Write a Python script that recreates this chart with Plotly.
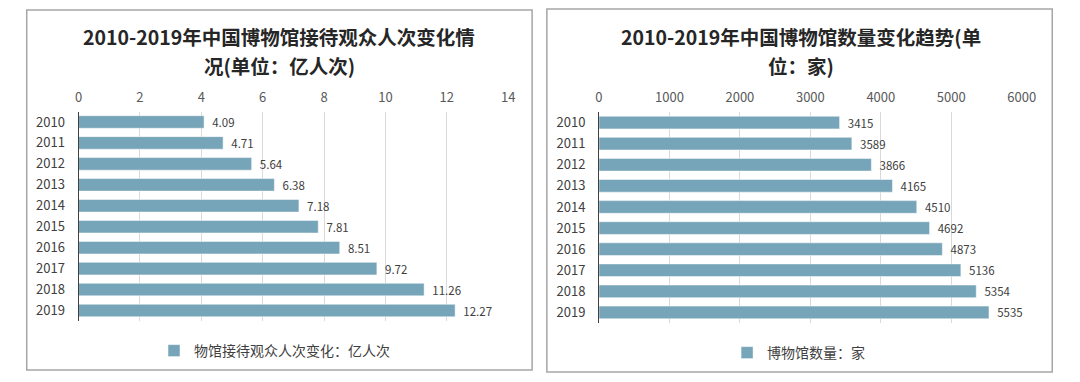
import plotly.graph_objects as go

years = ["2010", "2011", "2012", "2013", "2014", "2015", "2016", "2017", "2018", "2019"]
visitors = [4.09, 4.71, 5.64, 6.38, 7.18, 7.81, 8.51, 9.72, 11.26, 12.27]
museums = [3415, 3589, 3866, 4165, 4510, 4692, 4873, 5136, 5354, 5535]

title_left = ["2010-2019年中国博物馆接待观众人次变化情", "况(单位：亿人次)"]
title_right = ["2010-2019年中国博物馆数量变化趋势(单", "位：家)"]
legend_left = "物馆接待观众人次变化：亿人次"
legend_right = "博物馆数量：家"

OFF = 8  # browser default body margin
W, H = 1080 - OFF, 382 - OFF
BAR = "#76A4B8"
FONT = "Noto Sans CJK SC"

def px(x):
    return (x - OFF) / W

def py(y):
    return 1 - (y - OFF) / H

fig = go.Figure()
fig.add_trace(go.Bar(
    x=visitors, y=years, orientation="h", name=legend_left, showlegend=True,
    marker=dict(color=BAR, line=dict(color="white", width=0.5)),
    text=visitors, texttemplate="  %{x}", textposition="outside", constraintext="none",
    textfont=dict(size=11.5, color="#404040", family=FONT),
    cliponaxis=False, xaxis="x", yaxis="y", legend="legend",
))
fig.add_trace(go.Bar(
    x=museums, y=years, orientation="h", name=legend_right, showlegend=True,
    marker=dict(color=BAR, line=dict(color="white", width=0.5)),
    text=museums, texttemplate="  %{x}", textposition="outside", constraintext="none",
    textfont=dict(size=11.5, color="#404040", family=FONT),
    cliponaxis=False, xaxis="x2", yaxis="y2", legend="legend2",
))

xcommon = dict(side="top", showline=False, zeroline=False, showgrid=True,
               gridcolor="#D9D9D9", gridwidth=1, ticks="", ticklabelstandoff=6,
               tickfont=dict(size=13, color="#595959", family=FONT), fixedrange=True)
ycommon = dict(autorange="reversed", showline=True, linecolor="#404040", linewidth=1,
               ticks="", showgrid=False, ticklabelstandoff=10, type="category",
               tickfont=dict(size=13, color="#404040", family=FONT))

annotations = []
for lines, cx in ((title_left, 280), (title_right, 810)):
    for i, line in enumerate(lines):
        annotations.append(dict(
            text="<b>" + line + "</b>", x=px(cx), y=py(36.5 + 29 * i),
            xref="paper", yref="paper", xanchor="center", yanchor="middle",
            showarrow=False, font=dict(size=19.5, color="#262626", family=FONT)))

fig.update_layout(
    width=W, height=H,
    margin=dict(l=0, r=0, t=0, b=0),
    paper_bgcolor="white", plot_bgcolor="white",
    font=dict(family=FONT),
    showlegend=True,
    bargap=0.4,
    xaxis=dict(domain=[px(75.7), px(512.7)], range=[0, 14], dtick=2, anchor="y", **xcommon),
    yaxis=dict(domain=[py(321), py(111.5)], anchor="x", **ycommon),
    xaxis2=dict(domain=[px(605), px(1035)], range=[0, 6000], dtick=1000, anchor="y2", **xcommon),
    yaxis2=dict(domain=[py(323), py(112)], anchor="x2", **ycommon),
    legend=dict(x=px(275), y=py(351), xanchor="center", yanchor="middle",
                orientation="h", font=dict(size=14, color="#404040", family=FONT),
                bgcolor="rgba(0,0,0,0)", itemwidth=30, visible=True),
    legend2=dict(x=px(808), y=py(353), xanchor="center", yanchor="middle",
                 orientation="h", font=dict(size=14, color="#404040", family=FONT),
                 bgcolor="rgba(0,0,0,0)", itemwidth=30, visible=True),
    shapes=[
        dict(type="rect", xref="paper", yref="paper", x0=px(23), x1=px(537), y0=py(370), y1=py(10),
             line=dict(color="#A6A6A6", width=1.5), layer="below"),
        dict(type="rect", xref="paper", yref="paper", x0=px(552), x1=px(1066), y0=py(372), y1=py(9),
             line=dict(color="#A6A6A6", width=1.5), layer="below"),
    ],
    annotations=annotations,
)

fig.write_html("out.html")
